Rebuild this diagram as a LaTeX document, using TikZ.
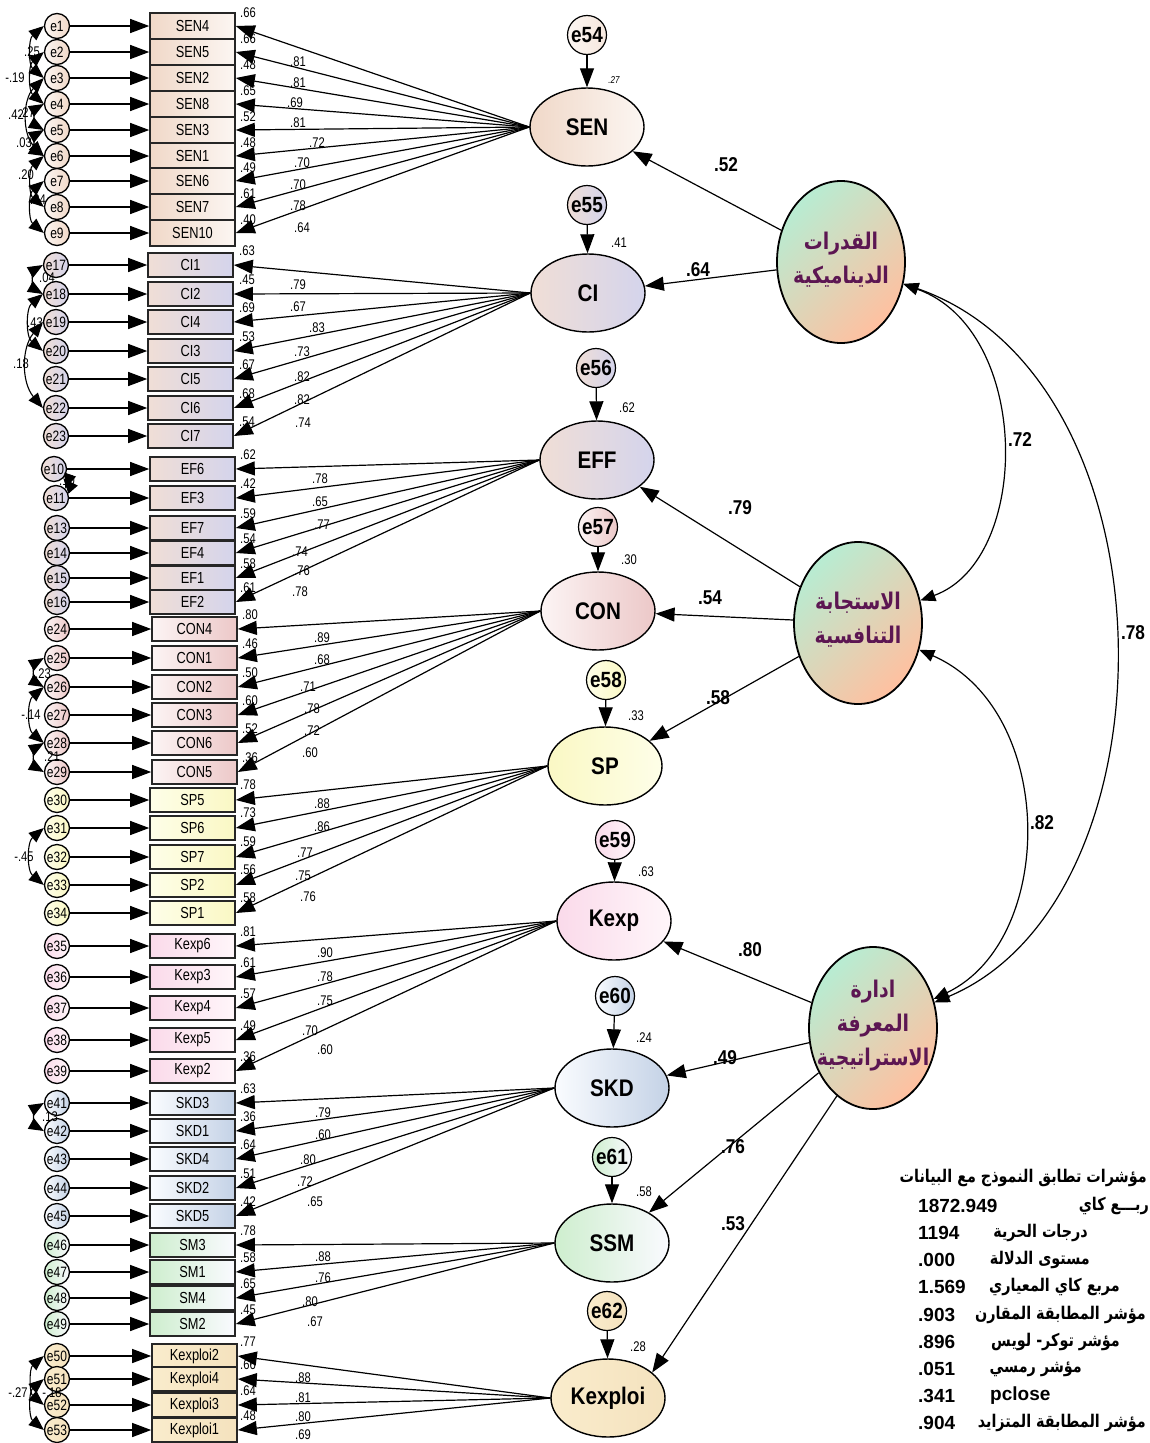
\documentclass[tikz,border=0pt]{standalone}
\usepackage{fontspec}
\setmainfont{Liberation Sans}
\newfontfamily\nar{Liberation Sans}[FakeStretch=0.8]
\newfontfamily\narB{Liberation Sans}[FakeStretch=0.86]
\newfontfamily\arabicfont[Script=Arabic]{DejaVu Sans}
\newfontfamily\arabicnar[Script=Arabic,FakeStretch=0.82]{DejaVu Sans}
\TeXXeTstate=1
\usetikzlibrary{shapes.geometric,arrows.meta,calc}
\definecolor{senA}{RGB}{240,216,200}
\definecolor{senB}{RGB}{252,246,242}
\definecolor{ciA}{RGB}{240,222,214}
\definecolor{ciB}{RGB}{212,212,236}
\definecolor{conA}{RGB}{252,244,244}
\definecolor{conB}{RGB}{236,200,200}
\definecolor{spA}{RGB}{254,254,232}
\definecolor{spB}{RGB}{250,248,196}
\definecolor{kpA}{RGB}{250,218,234}
\definecolor{kpB}{RGB}{255,246,250}
\definecolor{skA}{RGB}{250,252,255}
\definecolor{skB}{RGB}{196,210,230}
\definecolor{smA}{RGB}{206,238,206}
\definecolor{smB}{RGB}{250,250,255}
\definecolor{kxA}{RGB}{250,236,204}
\definecolor{kxB}{RGB}{244,226,190}
\definecolor{mint}{RGB}{184,236,210}
\definecolor{peach}{RGB}{255,192,160}
\definecolor{arp}{RGB}{92,22,82}
\newcommand\myobsf{\nar\fontsize{16}{16}\selectfont}
\newcommand\myerrf{\nar\fontsize{15}{15}\selectfont}
\newcommand\myvalf{\nar\fontsize{14}{14}\selectfont}
\newcommand\mylatf{\narB\bfseries\fontsize{24}{24}\selectfont}
\newcommand\mydistf{\narB\bfseries\fontsize{22}{22}\selectfont}
\newcommand\mycoeff{\narB\bfseries\fontsize{20}{20}\selectfont}
\newcommand\myrsqf{\nar\fontsize{14}{14}\selectfont}
\newcommand\myarf{\arabicnar\bfseries\fontsize{23}{34}\selectfont}
\newcommand\mytabar{\arabicnar\bfseries\fontsize{17.5}{17.5}\selectfont}
\newcommand\mytabnum{\bfseries\fontsize{19}{19}\selectfont}
\tikzset{
  err/.style={circle, draw=black, line width=1.3pt, inner sep=0pt, minimum size=25pt, font=\myerrf},
  obs/.style={rectangle, draw=black!85, line width=1.6pt, minimum width=85pt, minimum height=24pt, inner sep=0pt, font=\myobsf},
  lat/.style={ellipse, draw=black, line width=1.4pt, minimum width=114pt, minimum height=78pt, inner sep=0pt, font=\mylatf},
  dist/.style={circle, draw=black, line width=1.2pt, minimum size=39pt, inner sep=0pt, font=\mydistf},
  big/.style={ellipse, draw=black, line width=1.8pt, minimum width=128pt, minimum height=162pt, inner sep=0pt, top color=mint, bottom color=peach, shading angle=45},
  artext/.style={align=center, font=\myarf, text=arp, inner sep=0pt},
  arr/.style={-{Triangle[length=19pt,width=14pt]}, line width=1.2pt},
  covar/.style={{Triangle[length=15pt,width=12pt]}-{Triangle[length=15pt,width=12pt]}, line width=1.1pt},
  vlab/.style={font=\myvalf, inner sep=0pt},
  coef/.style={font=\mycoeff, inner sep=0pt},
  rsq/.style={font=\myrsqf, inner sep=0pt},
}
\begin{document}
\begin{tikzpicture}[x=1pt,y=-1pt]
\useasboundingbox (0,0) rectangle (1149,1443);
\fill[white] (0,0) rectangle (1149,1443);

% ---------------- first-order latents ----------------
\node[lat, left color=senA, right color=senB] (SEN) at (587,127) {SEN};
\node[lat, left color=ciA, right color=ciB] (CI) at (588,293) {CI};
\node[lat, left color=ciA, right color=ciB] (EFF) at (597,460) {EFF};
\node[lat, left color=conA, right color=conB] (CON) at (598,611) {CON};
\node[lat, left color=spB, right color=spA] (SP) at (605,766) {SP};
\node[lat, left color=kpA, right color=kpB] (Kexp) at (614,921) {Kexp};
\node[lat, left color=skA, right color=skB] (SKD) at (612,1088) {SKD};
\node[lat, left color=smA, right color=smB] (SSM) at (612,1243) {SSM};
\node[lat, left color=kxA, right color=kxB] (Kexploi) at (608,1398) {Kexploi};

% disturbances
\node[dist, left color=senB, right color=senA!60] (e54) at (587,35) {e54};
\node[dist, left color=ciA, right color=ciB] (e55) at (587,205) {e55};
\node[dist, left color=ciA, right color=ciB] (e56) at (596,368) {e56};
\node[dist, left color=conA, right color=conB] (e57) at (598,527) {e57};
\node[dist, left color=spA, right color=spB] (e58) at (606,680) {e58};
\node[dist, left color=kpA, right color=kpB] (e59) at (615,840) {e59};
\node[dist, left color=skA, right color=skB] (e60) at (615,996) {e60};
\node[dist, left color=smA, right color=smB] (e61) at (612,1157) {e61};
\node[dist, left color=kxA, right color=kxB] (e62) at (607,1311) {e62};
\foreach \d/\l in {e54/SEN,e55/CI,e56/EFF,e57/CON,e58/SP,e59/Kexp,e60/SKD,e61/SSM,e62/Kexploi}
  \draw[arr] (\d) -- (\l);
\node[rsq, font=\nar\itshape\fontsize{10}{10}\selectfont] at (614,80) {.27};
\foreach \q/\x/\y in {.41/619/243,.62/627/408,.30/629/560,.33/636/716,.63/646/872,.24/644/1038,.58/644/1192,.28/638/1347}
  \node[rsq] at (\x,\y) {\q};

% ---------------- observed blocks ----------------
\foreach \e/\b/\y/\r in {e1/SEN4/26/.66, e2/SEN5/52/.66, e3/SEN2/78/.48, e4/SEN8/104/.65, e5/SEN3/130/.52, e6/SEN1/156/.48, e7/SEN6/181/.49, e8/SEN7/207/.61, e9/SEN10/233/.40}{
  \node[err, left color=senB, right color=senA] (\e) at (57,\y) {\e};
  \node[obs, minimum height=25.5pt, left color=senA, right color=senB] (\b) at (192.5,\y) {\b};
  \draw[arr] (\e) -- (\b);
  \draw[arr] (SEN.west) -- (\b.east);
  \node[vlab] at (248,\y-13) {\r};
}
\foreach \e/\b/\y/\r in {e17/CI1/265/.63, e18/CI2/294/.45, e19/CI4/322/.69, e20/CI3/351/.53, e21/CI5/379/.67, e22/CI6/408/.68, e23/CI7/436/.54}{
  \node[err, left color=ciA, right color=ciB] (\e) at (56,\y) {\e};
  \node[obs, left color=ciA, right color=ciB] (\b) at (190.5,\y) {\b};
  \draw[arr] (\e) -- (\b);
  \draw[arr] (CI.west) -- (\b.east);
  \node[vlab] at (247,\y-14) {\r};
}
\foreach \e/\b/\y/\r/\ex in {e10/EF6/469/.62/54, e11/EF3/498/.42/56, e13/EF7/528/.59/57, e14/EF4/553/.54/57, e15/EF1/578/.58/57, e16/EF2/602/.61/57}{
  \node[err, left color=ciA, right color=ciB] (\e) at (\ex,\y) {\e};
  \node[obs, left color=ciA, right color=ciB] (\b) at (192.5,\y) {\b};
  \draw[arr] (\e) -- (\b);
  \draw[arr] (EFF.west) -- (\b.east);
  \node[vlab] at (248,\y-14) {\r};
}
\foreach \e/\b/\y/\r in {e24/CON4/629/.80, e25/CON1/658/.46, e26/CON2/687/.50, e27/CON3/715/.60, e28/CON6/743/.52, e29/CON5/772/.36}{
  \node[err, left color=conA, right color=conB] (\e) at (57,\y) {\e};
  \node[obs, left color=conA, right color=conB] (\b) at (194.5,\y) {\b};
  \draw[arr] (\e) -- (\b);
  \draw[arr] (CON.west) -- (\b.east);
  \node[vlab] at (250,\y-14) {\r};
}
\foreach \e/\b/\y/\r in {e30/SP5/800/.78, e31/SP6/828/.73, e32/SP7/857/.59, e33/SP2/885/.56, e34/SP1/913/.58}{
  \node[err, left color=spA, right color=spB] (\e) at (57,\y) {\e};
  \node[obs, left color=spA, right color=spB] (\b) at (192.5,\y) {\b};
  \draw[arr] (\e) -- (\b);
  \draw[arr] (SP.west) -- (\b.east);
  \node[vlab] at (248,\y-15) {\r};
}
\foreach \e/\b/\y/\r in {e35/Kexp6/946/.81, e36/Kexp3/977/.61, e37/Kexp4/1008/.57, e38/Kexp5/1040/.49, e39/Kexp2/1071/.36}{
  \node[err, left color=kpA, right color=kpB] (\e) at (57,\y) {\e};
  \node[obs, left color=kpA, right color=kpB] (\b) at (192.5,\y) {\b};
  \draw[arr] (\e) -- (\b);
  \draw[arr] (Kexp.west) -- (\b.east);
  \node[vlab] at (248,\y-14) {\r};
}
\foreach \e/\b/\y/\r in {e41/SKD3/1103/.63, e42/SKD1/1131/.36, e43/SKD4/1159/.64, e44/SKD2/1188/.51, e45/SKD5/1216/.42}{
  \node[err, left color=skA, right color=skB] (\e) at (57,\y) {\e};
  \node[obs, left color=skA, right color=skB] (\b) at (192.5,\y) {\b};
  \draw[arr] (\e) -- (\b);
  \draw[arr] (SKD.west) -- (\b.east);
  \node[vlab] at (248,\y-14) {\r};
}
\foreach \e/\b/\y/\r in {e46/SM3/1245/.78, e47/SM1/1272/.58, e48/SM4/1298/.65, e49/SM2/1324/.45}{
  \node[err, left color=smA, right color=smB] (\e) at (57,\y) {\e};
  \node[obs, left color=smA, right color=smB] (\b) at (192.5,\y) {\b};
  \draw[arr] (\e) -- (\b);
  \draw[arr] (SSM.west) -- (\b.east);
  \node[vlab] at (248,\y-14) {\r};
}
\foreach \e/\b/\y/\r in {e50/Kexploi2/1356/.77, e51/Kexploi4/1379/.66, e52/Kexploi3/1405/.64, e53/Kexploi1/1430/.48}{
  \node[err, left color=kxA, right color=kxB] (\e) at (57,\y) {\e};
  \node[obs, left color=kxA, right color=kxB] (\b) at (194.5,\y) {\b};
  \draw[arr] (\e) -- (\b);
  \draw[arr] (Kexploi.west) -- (\b.east);
  \node[vlab] at (248,\y-14) {\r};
}

% loading labels
\foreach \q/\x/\y in {.81/298/62,.81/298/83,.69/295/103,.81/298/123,.72/317/143,.70/302/163,.70/298/185,.78/298/206,.64/302/228,
  .79/298/285,.67/298/307,.83/317/328,.73/302/352,.82/302/377,.82/302/400,.74/303/423,
  .78/320/479,.65/320/502,.77/322/525,.74/300/552,.76/302/571,.78/300/592,
  .89/322/638,.68/322/660,.71/308/687,.78/312/709,.72/312/731,.60/310/753,
  .88/322/804,.86/322/827,.77/305/853,.75/303/876,.76/308/897,
  .90/325/953,.78/325/977,.75/325/1001,.70/310/1031,.60/325/1050,
  .79/323/1113,.60/323/1135,.80/308/1160,.72/305/1182,.65/315/1202,
  .88/323/1257,.76/323/1278,.80/310/1302,.67/315/1322,
  .88/303/1378,.81/303/1398,.80/303/1417,.69/303/1435}
  \node[vlab] at (\x,\y) {\q};

% error covariances
\draw[covar] (e1.west) to[bend right=50] (e3.west);
\draw[covar] (e2.west) to[bend right=50] (e4.west);
\draw[covar] (e3.west) to[bend right=45] (e6.west);
\draw[covar] (e4.west) to[bend right=60] (e5.west);
\draw[covar] (e5.west) to[bend right=60] (e6.west);
\draw[covar] (e6.west) to[bend right=50] (e8.west);
\draw[covar] (e7.west) to[bend right=50] (e9.west);
\foreach \q/\x/\y in {.25/32/52,-.19/15/78,.42/16/115,.27/27/113,.03/24/143,.20/26/175,.24/38/200}
  \node[vlab] at (\x,\y) {\q};
\draw[covar] (e17.west) to[bend right=60] (e18.west);
\draw[covar] (e18.west) to[bend right=50] (e20.west);
\draw[covar] (e19.west) to[bend right=40] (e22.west);
\foreach \q/\x/\y in {.04/47/278,.43/35/323,.18/21/364}
  \node[vlab] at (\x,\y) {\q};
\draw[covar] (e10.south east) to[bend left=30] (e11.north east);
\node[vlab] at (67,481) {.10};
\draw[covar] (e25.west) to[bend right=60] (e26.west);
\draw[covar] (e26.west) to[bend right=50] (e28.west);
\draw[covar] (e28.west) to[bend right=60] (e29.west);
\foreach \q/\x/\y in {.23/43/674,-.14/31/715,.21/52/757}
  \node[vlab] at (\x,\y) {\q};
\draw[covar] (e31.west) to[bend right=50] (e33.west);
\node[vlab] at (24,857) {-.45};
\draw[covar] (e41.west) to[bend right=60] (e42.west);
\node[vlab] at (50,1117) {.13};
\draw[covar] (e50.west) to[bend right=50] (e52.west);
\draw[covar] (e51.west) to[bend right=50] (e53.west);
\node[vlab] at (18,1393) {-.27};
\node[vlab] at (52,1393) {-.18};

% ---------------- second-order latents ----------------
\node[big] (DC) at (841,262) {};
\node[artext] at (841,260) {\beginR القدرات\endR\\\beginR الديناميكية\endR};
\node[big] (CR) at (858,623) {};
\node[artext] at (858,620) {\beginR الاستجابة\endR\\\beginR التنافسية\endR};
\node[big] (KM) at (873,1028) {};
\node[artext] at (873,1026) {\beginR ادارة\endR\\\beginR المعرفة\endR\\\beginR الاستراتيجية\endR};

\draw[arr] (DC) -- (SEN);
\draw[arr] (DC) -- (CI);
\draw[arr] (CR) -- (EFF);
\draw[arr] (CR) -- (CON);
\draw[arr] (CR) -- (SP);
\draw[arr] (KM) -- (Kexp);
\draw[arr] (KM) -- (SKD);
\draw[arr] (KM) -- (SSM);
\draw[arr] (KM.242) -- (Kexploi.30);
\foreach \q/\x/\y in {.52/726/165,.64/698/270,.79/740/508,.54/710/598,.58/718/698,.80/750/950,.49/725/1058,.76/733/1147,.53/733/1224,.72/1020/440,.82/1042/823,.78/1133/633}
  \node[coef] at (\x,\y) {\q};

\draw[covar, line width=1.2pt] (DC) .. controls (1032,330) and (1032,560) .. (CR);
\draw[covar, line width=1.2pt] (CR) .. controls (1057,710) and (1057,940) .. (KM);
\draw[covar, line width=1.2pt] (DC) .. controls (1180,380) and (1180,900) .. (KM);

% ---------------- fit table ----------------
\node[anchor=east, inner sep=0pt, font=\mytabar] (ft0) at (1147,1178) {\beginR مؤشرات تطابق النموذج مع البيانات\endR};
\foreach \n/\v/\y in {1/1872.949/1206,2/1194/1233,3/.000/1260,4/1.569/1287,5/.903/1315,6/.896/1342,7/.051/1369,8/.341/1396,9/.904/1423}
  \node[anchor=west, inner sep=0pt, font=\mytabnum] (fv\n) at (918,\y) {\v};
\node[anchor=east, inner sep=0pt, font=\mytabar] at (1149,1206) {\beginR ربـــع كاي\endR};
\node[anchor=east, inner sep=0pt, font=\mytabar] at (1088,1233) {\beginR درجات الحرية\endR};
\node[anchor=east, inner sep=0pt, font=\mytabar] at (1090,1260) {\beginR مستوى الدلالة\endR};
\node[anchor=east, inner sep=0pt, font=\mytabar] at (1120,1287) {\beginR مربع كاي المعياري\endR};
\node[anchor=east, inner sep=0pt, font=\mytabar] at (1146,1315) {\beginR مؤشر المطابقة المقارن\endR};
\node[anchor=east, inner sep=0pt, font=\mytabar] at (1120,1342) {\beginR مؤشر توكر- لويس\endR};
\node[anchor=east, inner sep=0pt, font=\mytabar] at (1082,1369) {\beginR مؤشر رمسي\endR};
\node[anchor=west, inner sep=0pt, font=\mytabnum] at (990,1396) {pclose};
\node[anchor=east, inner sep=0pt, font=\mytabar] at (1146,1423) {\beginR مؤشر المطابقة المتزايد\endR};
\end{tikzpicture}
\end{document}
